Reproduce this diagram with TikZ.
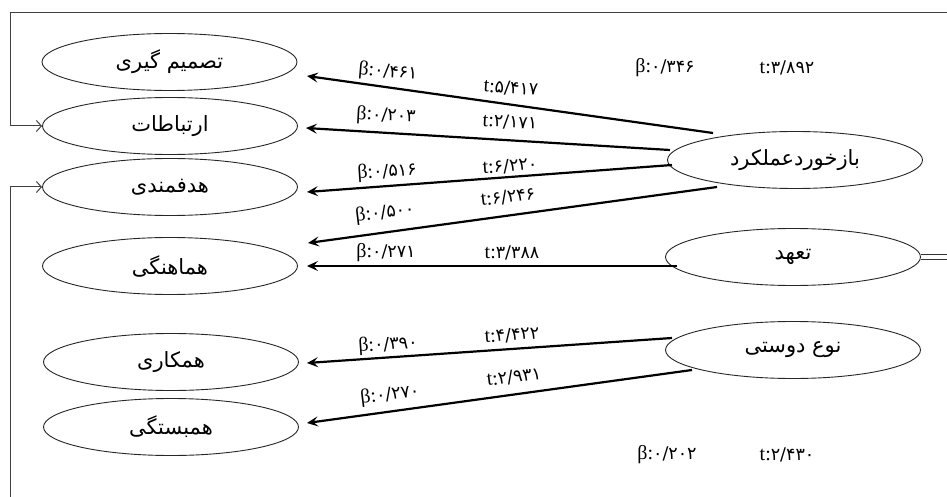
\documentclass[tikz,border=0pt]{standalone}
\usepackage{fontspec}
\TeXXeTstate=1
\newfontfamily\fafont[Script=Arabic]{DejaVu Sans}
\newfontfamily\digfont{DejaVu Sans}
\newfontfamily\grfont{Liberation Serif}
\usetikzlibrary{arrows.meta,calc,shapes.geometric}
\newcommand{\blab}[1]{{\grfont\fontsize{20}{22}\selectfont β:}{\digfont\fontsize{17.5}{20}\selectfont #1}}
\newcommand{\tlab}[1]{{\grfont\fontsize{20}{22}\selectfont t:}{\digfont\fontsize{17.5}{20}\selectfont #1}}
\tikzset{
  ell/.style={ellipse, draw=black!85, line width=0.9pt, minimum width=255pt, minimum height=57pt, inner sep=0pt, font=\fafont\fontsize{21}{24}\selectfont},
  arr/.style={line width=2.2pt, -{Stealth[length=11pt,width=10pt,inset=4.5pt]}},
  fbk/.style={line width=1pt, draw=black!75, -{Straight Barb[length=5pt,width=11pt]}},
  lab/.style={inner sep=0pt},
}
\begin{document}
\begin{tikzpicture}[x=1pt,y=-1pt]
\useasboundingbox (0,0) rectangle (947,497);
% left ellipses
\node[ell] (tg) at (169.5,62) {\beginR تصمیم گیری\endR};
\node[ell] (er) at (170,126) {\beginR ارتباطات\endR};
\node[ell] (hd) at (170,187) {\beginR هدفمندی\endR};
\node[ell] (hm) at (170,266) {\beginR هماهنگی\endR};
\node[ell] (hk) at (171,362) {\beginR همکاری\endR};
\node[ell] (hb) at (171,427) {\beginR همبستگی\endR};
% right ellipses
\node[ell] (fb) at (795,160) {\beginR بازخوردعملکرد\endR};
\node[ell] (th) at (793,257) {\beginR تعهد\endR};
\node[ell] (nd) at (793,350) {\beginR نوع دوستی\endR};
% free end coordinates
\coordinate (topR) at (947,12.5);
\coordinate (botL) at (10,497);
\coordinate (dblR) at (947,257);
% feedback lines
\draw[fbk] (topR) -- (10,12.5) |- (er.west);
\draw[fbk] (botL) |- (hd.west);
\draw[double=white, double distance=4pt, line width=0.8pt, draw=black!80] (th.east) -- (dblR);
% arrows
\draw[arr] ($(fb)+(-82,-27)$) -- ($(tg)+(137.5,14)$);
\draw[arr] ($(fb)+(-125,-10)$) -- ($(er)+(136,2)$);
\draw[arr] ($(fb)+(-123,5)$) -- ($(hd)+(137,5)$);
\draw[arr] ($(fb)+(-78,27)$) -- ($(hm)+(138,-23)$);
\draw[arr] ($(th)+(-116,9)$) -- ($(hm)+(137,0)$);
\draw[arr] ($(nd)+(-121,-12)$) -- ($(hk)+(136,1)$);
\draw[arr] ($(nd)+(-101,20)$) -- ($(hb)+(136,-4)$);
% labels
\node[lab, rotate=-5] (b1) at (388,72) {\blab{۰/۴۶۱}};
\node[lab, rotate=-4] (t1) at (511,88) {\tlab{۵/۴۱۷}};
\node[lab, rotate=-3] (b2) at (386,116) {\blab{۰/۲۰۳}};
\node[lab, rotate=-3] (t2) at (510,122) {\tlab{۲/۱۷۱}};
\node[lab, rotate=4] (b3) at (387,172) {\blab{۰/۵۱۶}};
\node[lab, rotate=4] (t3) at (510,166) {\tlab{۶/۲۲۰}};
\node[lab, rotate=7] (b4) at (385,213) {\blab{۰/۵۰۰}};
\node[lab, rotate=7] (t4) at (508,197) {\tlab{۶/۲۴۶}};
\node[lab] (b5) at (386,253) {\blab{۰/۲۷۱}};
\node[lab] (t5) at (512,253) {\tlab{۳/۳۸۸}};
\node[lab, rotate=4] (b6) at (388,345) {\blab{۰/۳۹۰}};
\node[lab, rotate=4] (t6) at (512,335) {\tlab{۴/۴۲۲}};
\node[lab, rotate=7] (b7) at (390,395) {\blab{۰/۲۷۰}};
\node[lab, rotate=7] (t7) at (514,377) {\tlab{۲/۹۳۱}};
\node[lab] (b8) at (665,68) {\blab{۰/۳۴۶}};
\node[lab] (t8) at (787,68) {\tlab{۳/۸۹۲}};
\node[lab] (b9) at (667,455) {\blab{۰/۲۰۲}};
\node[lab] (t9) at (787,455) {\tlab{۲/۴۳۰}};
\end{tikzpicture}
\end{document}
